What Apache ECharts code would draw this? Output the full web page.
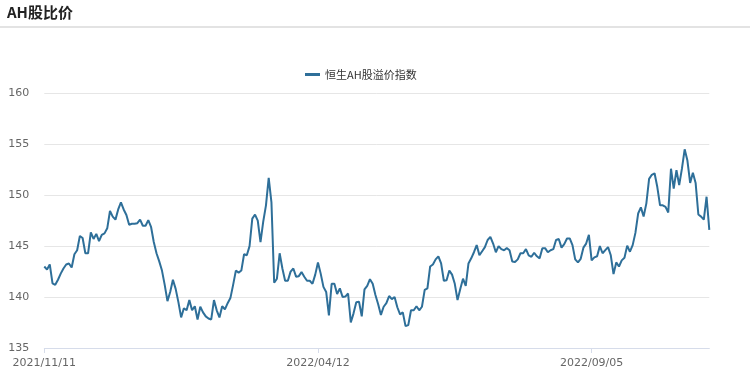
<!DOCTYPE html>
<html>
<head>
<meta charset="utf-8">
<script src="https://cdn.jsdelivr.net/npm/echarts@6/dist/echarts.min.js"></script>
<style>
html,body{margin:0;padding:0;background:#fff;}
#chart{width:750px;height:370px;}
</style>
</head>
<body>
<div id="chart"></div>
<script>
// Series name and title
const titleText = 'AH股比价';
const seriesName = '恒生AH股溢价指数';

// Category axis: A-share trading days starting 2021/11/11
const startDate = '2021/11/11';
const holidays = ['2022/01/03','2022/01/31','2022/02/01','2022/02/02','2022/02/03','2022/02/04',
  '2022/04/04','2022/04/05','2022/05/02','2022/05/03','2022/05/04','2022/06/03','2022/09/12',
  '2022/10/03','2022/10/04','2022/10/05','2022/10/06','2022/10/07'];

// Y axis ticks
const yTicks = [135, 140, 145, 150, 155, 160];

// Series values
const values = [
143.0,142.7,143.2,141.35,141.2,141.7,142.3,142.8,143.2,143.3,
142.9,144.2,144.6,146.0,145.8,144.3,144.3,146.35,145.7,146.2,
145.5,146.1,146.25,146.75,148.45,147.9,147.6,148.6,149.3,148.6,
148.05,147.1,147.2,147.2,147.25,147.6,147.0,147.0,147.55,146.9,
145.4,144.3,143.5,142.6,141.2,139.6,140.5,141.7,140.8,139.5,
138.0,138.9,138.7,139.7,138.7,139.1,137.8,139.05,138.5,138.1,
137.9,137.8,139.7,138.7,138.0,139.1,138.8,139.4,139.9,141.2,
142.6,142.4,142.6,144.2,144.1,145.0,147.7,148.1,147.5,145.4,
147.4,149.0,151.7,149.3,141.4,141.8,144.3,142.8,141.6,141.6,
142.5,142.8,142.0,142.05,142.45,142.0,141.6,141.6,141.3,142.2,
143.4,142.3,141.0,140.5,138.2,141.3,141.3,140.3,140.85,140.0,
140.05,140.35,137.5,138.4,139.5,139.55,138.1,140.75,141.1,141.75,
141.3,140.2,139.3,138.25,139.05,139.4,140.1,139.8,140.0,139.0,
138.3,138.5,137.15,137.25,138.7,138.7,139.1,138.7,139.05,140.7,
140.85,143.0,143.2,143.7,144.0,143.3,141.6,141.65,142.6,142.2,
141.3,139.7,140.8,141.8,141.1,143.3,143.8,144.4,145.1,144.1,
144.5,144.9,145.6,145.9,145.25,144.4,145.0,144.7,144.6,144.8,
144.6,143.5,143.45,143.7,144.3,144.3,144.7,144.1,143.95,144.35,
144.0,143.8,144.8,144.8,144.4,144.6,144.7,145.6,145.7,144.85,
145.2,145.75,145.75,145.1,143.7,143.4,143.75,144.85,145.25,146.1,
143.6,143.9,144.0,145.0,144.3,144.6,144.9,144.1,142.25,143.4,
143.0,143.6,143.85,145.05,144.45,145.1,146.3,148.2,148.8,147.9,
149.2,151.6,152.0,152.15,150.8,149.0,149.0,148.85,148.3,152.6,
150.65,152.45,151.0,152.6,154.5,153.4,151.2,152.2,151.2,148.1,
147.9,147.6,149.85,146.6
];

function pad(n){return n<10?'0'+n:''+n;}
const categories = [];
(function(){
  const p = startDate.split('/').map(Number);
  const d = new Date(p[0], p[1]-1, p[2], 12);
  while (categories.length < values.length) {
    const s = d.getFullYear() + '/' + pad(d.getMonth()+1) + '/' + pad(d.getDate());
    const wd = d.getDay();
    if (wd !== 0 && wd !== 6 && holidays.indexOf(s) < 0) categories.push(s);
    d.setDate(d.getDate()+1);
  }
})();

const chart = echarts.init(document.getElementById('chart'), null, {renderer:'canvas'});
chart.setOption({
  animation: false,
  backgroundColor: '#fff',
  title: {
    text: titleText,
    left: 2, top: 0,
    textStyle: {fontSize: 15, fontWeight: 'bold', color: '#222', fontFamily: 'Noto Sans CJK SC'}
  },
  graphic: [{
    type: 'rect', left: 0, top: 26,
    shape: {width: 750, height: 2},
    style: {fill: '#e3e3e3'}
  }],
  legend: {
    data: [seriesName],
    icon: 'rect',
    top: 64, left: 300,
    itemWidth: 15, itemHeight: 3,
    itemGap: 5,
    textStyle: {fontSize: 11, color: '#333', fontFamily: 'Noto Sans CJK SC'}
  },
  grid: {left: 44.3, right: 40.7, top: 93.3, bottom: 22, containLabel: false},
  xAxis: {
    type: 'category',
    data: categories,
    boundaryGap: false,
    axisLine: {lineStyle: {color: '#d6dcea', width: 1}},
    axisTick: {show: true, interval: 99, length: 5, lineStyle: {color: '#d6dcea'}},
    axisLabel: {interval: 99, color: '#666', fontSize: 11, margin: 10, fontFamily: 'DejaVu Sans'},
    splitLine: {show: false}
  },
  yAxis: {
    type: 'value',
    min: yTicks[0], max: yTicks[yTicks.length-1], interval: 5,
    axisLine: {show: false},
    axisTick: {show: false},
    axisLabel: {color: '#666', fontSize: 11, margin: 15, fontFamily: 'DejaVu Sans'},
    splitLine: {lineStyle: {color: '#e6e6e6', width: 1}}
  },
  series: [{
    name: seriesName,
    type: 'line',
    data: values,
    symbol: 'none',
    lineStyle: {color: '#2e6f99', width: 2},
    itemStyle: {color: '#2e6f99'}
  }]
});
</script>
</body>
</html>
